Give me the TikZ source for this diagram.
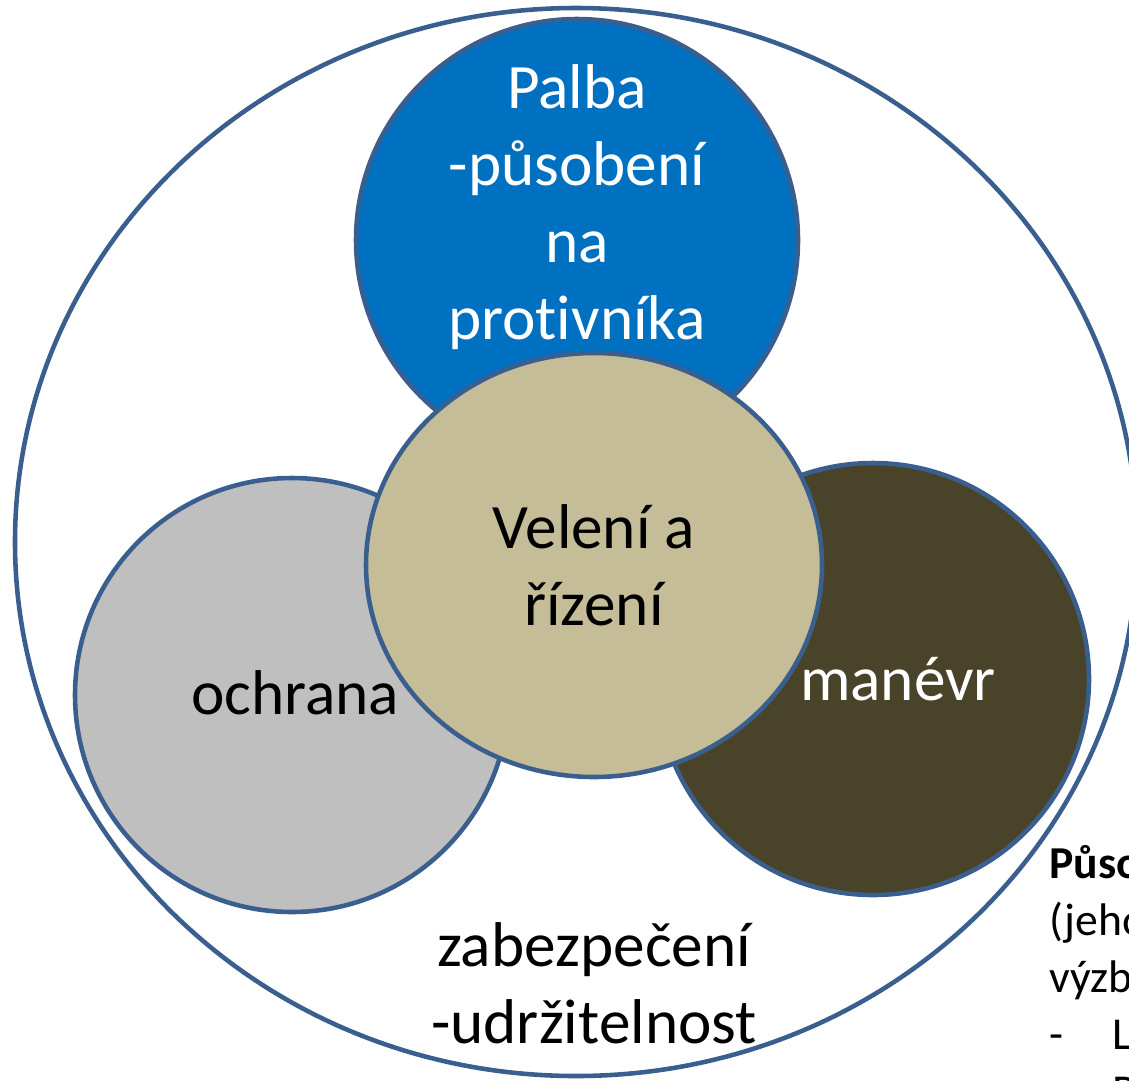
\documentclass[tikz,border=0pt]{standalone}
\usepackage{fontspec}
\setmainfont{Carlito}[Ligatures=NoCommon]

\definecolor{edgeblue}{HTML}{3A5F8F}
\definecolor{fireblue}{HTML}{0070C0}
\definecolor{commandtan}{HTML}{C4BD97}
\definecolor{guardgray}{HTML}{BFBFBF}
\definecolor{moveolive}{HTML}{494429}

\tikzset{
    part/.style={draw=edgeblue, line width=2.6pt},
    bigtext/.style={font=\fontsize{36}{43.8}\selectfont, align=center, anchor=base, inner sep=0pt},
    sidetext/.style={font=\fontsize{26}{32.4}\selectfont, align=left, anchor=base west, inner sep=0pt}
}

\begin{document}
\begin{tikzpicture}[x=0.02cm, y=-0.02cm]
    \useasboundingbox (0,0) rectangle (1129,1080);

    % Outer frame
    \draw[part] (576,542) ellipse (561 and 534);

    % Three circles
    \filldraw[part, fill=fireblue] (577,240) circle (221);
    \filldraw[part, fill=guardgray] (292,695) circle (217);
    \filldraw[part, fill=moveolive] (873,679) circle (216);

    % Centre
    \filldraw[part, fill=commandtan] (594,565) ellipse (228 and 212);

    % Labels (anchored at the last line)
    \node[bigtext, text=white] (palba) at (577,339) {Palba\\-působení\\na\\protivníka};
    \node[bigtext] (veleni) at (594,625) {Velení a\\řízení};
    \node[bigtext] (ochrana) at (295,714) {ochrana};
    \node[bigtext, text=white] (manevr) at (898,700) {manévr};
    \node[bigtext] (zabezpeceni) at (594,1043) {zabezpečení\\-udržitelnost};

    % Side note, cut by the page edge
    \node[sidetext] (pusobeni) at (1049,1106)
        {\textbf{Půso}\\(jeho\\výzb\\\makebox[1.26cm][l]{-}L\\\makebox[1.26cm][l]{-}P};

\end{tikzpicture}
\end{document}
